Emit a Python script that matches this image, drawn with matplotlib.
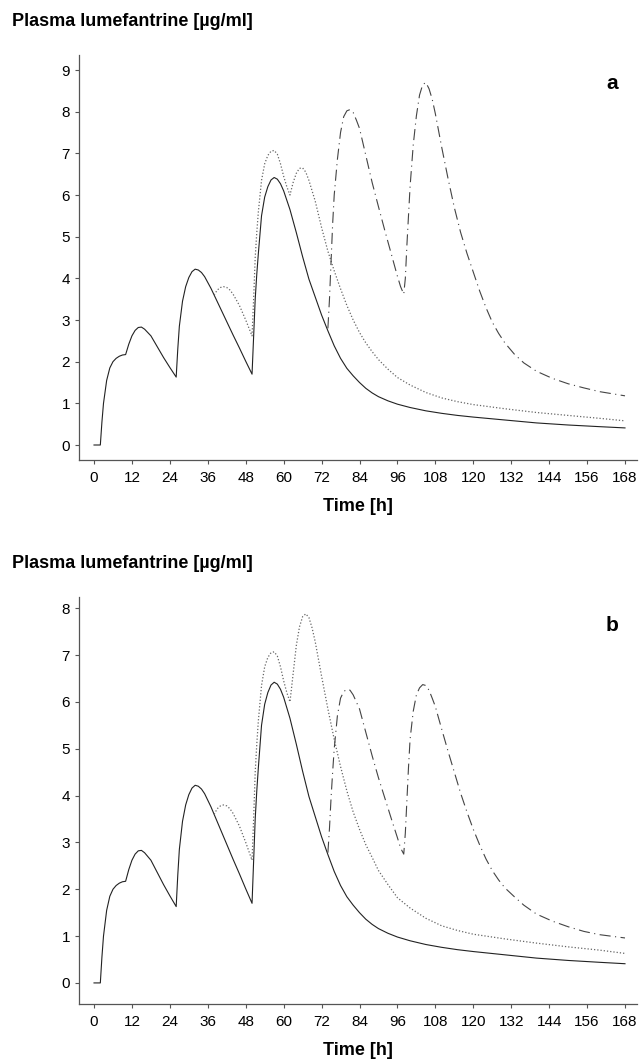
import matplotlib as mpl
import matplotlib.pyplot as plt

# concentration-time curves (time in h, conc in ug/ml)
SOLID_T = [0, 2, 2.5, 3, 4, 5, 6, 7, 8, 9,
           10, 11, 12, 13, 14, 15, 16, 18, 20, 22,
           24, 26, 26.5, 27, 28, 29, 30, 31, 32, 33,
           34, 35, 36, 37, 38, 40, 42, 44, 46, 48,
           50, 50.5, 51, 51.5, 52, 53, 54, 55, 56, 57,
           58, 59, 60, 62, 64, 66, 68, 70, 72, 74,
           76, 78, 80, 82, 84, 86, 88, 90, 93, 96,
           100, 105, 110, 115, 120, 130, 140, 150, 160, 168]
SOLID_C = [0, 0, 0.55, 1.0, 1.55, 1.85, 2.0, 2.08, 2.13, 2.16,
           2.17, 2.42, 2.62, 2.75, 2.82, 2.83, 2.78, 2.62, 2.36, 2.1,
           1.86, 1.63, 2.3, 2.85, 3.45, 3.8, 4.02, 4.16, 4.22, 4.2,
           4.14, 4.04, 3.9, 3.76, 3.6, 3.28, 2.96, 2.64, 2.33, 2.01,
           1.70, 2.6, 3.5, 4.1, 4.6, 5.5, 5.95, 6.2, 6.36, 6.42,
           6.38, 6.27, 6.1, 5.65, 5.1, 4.52, 3.98, 3.55, 3.12, 2.74,
           2.38, 2.08, 1.84, 1.66, 1.5, 1.36, 1.25, 1.16, 1.06, 0.98,
           0.9, 0.82, 0.76, 0.71, 0.67, 0.6, 0.53, 0.48, 0.44, 0.41]

# six-dose regimen, shared part (branches off the solid curve at 38 h)
DOTTED_T = [38, 39, 40, 41, 42, 43, 44, 46, 48, 50,
            50.5, 51, 51.5, 52, 53, 54, 55, 56, 57, 58,
            59, 60, 61, 62]
DOTTED_C = [3.6, 3.72, 3.78, 3.8, 3.78, 3.72, 3.62, 3.35, 3.0, 2.62,
            3.5, 4.5, 5.1, 5.6, 6.35, 6.75, 6.95, 7.05, 7.07, 6.98,
            6.75, 6.45, 6.2, 6.0]

LATE_T = [63, 64, 65, 66, 67, 68, 69, 70, 72, 74,
          76, 78, 80, 82, 84, 86, 88, 90, 93, 96,
          100, 105, 110, 115, 120, 130, 140, 150, 160, 168]
DOTTED_A_C = [6.3, 6.52, 6.64, 6.65, 6.55, 6.35, 6.1, 5.85, 5.22, 4.65,
              4.18, 3.75, 3.35, 3.0, 2.7, 2.45, 2.24, 2.05, 1.82, 1.62,
              1.44, 1.26, 1.13, 1.04, 0.97, 0.87, 0.78, 0.71, 0.64, 0.58]
DOTTED_B_C = [6.6, 7.2, 7.6, 7.82, 7.88, 7.8, 7.58, 7.28, 6.55, 5.85,
              5.2, 4.62, 4.1, 3.65, 3.28, 2.95, 2.68, 2.4, 2.1, 1.82,
              1.6, 1.38, 1.22, 1.12, 1.04, 0.94, 0.85, 0.77, 0.7, 0.63]

# dashed curves branch off the solid curve at 74 h
DASHED_T = [74, 74.5, 75, 75.5, 76, 77, 78, 79, 80, 81,
            82, 83, 84, 86, 88, 90, 92, 94, 96, 97,
            98, 98.5, 99, 99.5, 100, 101, 102, 103, 104, 105,
            106, 107, 108, 110, 112, 114, 116, 118, 120, 122,
            124, 126, 128, 130, 133, 136, 140, 145, 150, 155,
            160, 168]
DASHED_A_C = [2.8, 3.5, 4.4, 5.3, 6.0, 6.85, 7.5, 7.88, 8.02, 8.05,
              7.98, 7.8, 7.6, 6.95, 6.3, 5.72, 5.15, 4.6, 4.05, 3.8,
              3.62, 4.0, 4.8, 5.5, 6.2, 7.2, 7.9, 8.4, 8.65, 8.7,
              8.55, 8.3, 7.95, 7.15, 6.4, 5.7, 5.1, 4.6, 4.15, 3.7,
              3.3, 2.95, 2.68, 2.45, 2.18, 1.97, 1.77, 1.6, 1.47, 1.37,
              1.28, 1.18]
DASHED_B_C = [2.78, 3.3, 3.95, 4.5, 5.0, 5.7, 6.08, 6.22, 6.27, 6.25,
              6.15, 6.0, 5.85, 5.35, 4.85, 4.38, 3.95, 3.52, 3.1, 2.88,
              2.75, 3.2, 3.9, 4.6, 5.2, 5.8, 6.15, 6.3, 6.37, 6.35,
              6.25, 6.08, 5.9, 5.42, 4.95, 4.5, 4.05, 3.65, 3.28, 2.95,
              2.65, 2.4, 2.2, 2.03, 1.84, 1.66, 1.47, 1.32, 1.2, 1.1,
              1.03, 0.96]

X_TICKS = list(range(0, 169, 12))
Y_TITLE = "Plasma lumefantrine [µg/ml]"

mpl.rcParams.update({
    "font.family": ["Liberation Sans", "DejaVu Sans"],
    "font.size": 11,
    "axes.edgecolor": "#555555",
    "xtick.color": "#555555",
    "ytick.color": "#555555",
    "xtick.labelcolor": "black",
    "ytick.labelcolor": "black",
})

W, H = 641, 1062
fig = plt.figure(figsize=(W / 100, H / 100), dpi=100)


def px_axes(top, bottom, left=79, right=637):
    return fig.add_axes([left / W, 1 - bottom / H, (right - left) / W, (bottom - top) / H])


def draw_panel(ax, dotted_late, dashed, yticks, ylim, letter):
    ax.plot(SOLID_T, SOLID_C, color="#222222", lw=0.8)
    ax.plot(DOTTED_T + LATE_T, DOTTED_C + dotted_late, color="#666666", lw=0.9,
            linestyle=(0, (1, 1.6)))
    ax.plot(DASHED_T, dashed, color="#444444", lw=0.8,
            linestyle=(0, (10, 4, 1, 4)))
    ax.set_xlim(-4.75, 171.8)
    ax.set_ylim(*ylim)
    ax.set_xticks(X_TICKS)
    ax.set_yticks(yticks)
    for side in ("top", "right"):
        ax.spines[side].set_visible(False)
    ax.spines["left"].set_linewidth(0.9)
    ax.spines["bottom"].set_linewidth(0.9)
    ax.tick_params(direction="out", length=3, width=0.8, labelsize=11)
    ax.tick_params(axis="x", pad=5)
    ax.set_xlabel("Time [h]", fontsize=13, weight="bold", labelpad=9)
    ax.text(0.955, 0.93, letter, transform=ax.transAxes, fontsize=15,
            weight="bold", ha="center", va="center")


ax_a = px_axes(55, 460)
draw_panel(ax_a, DOTTED_A_C, DASHED_A_C, range(0, 10), (-0.36, 9.36), "a")
fig.text(12 / W, 1 - 21 / H, Y_TITLE, fontsize=13, weight="bold", va="center")

ax_b = px_axes(597, 1004)
draw_panel(ax_b, DOTTED_B_C, DASHED_B_C, range(0, 9), (-0.45, 8.24), "b")
fig.text(12 / W, 1 - 563 / H, Y_TITLE, fontsize=13, weight="bold", va="center")

fig.savefig("out.png", dpi=100, facecolor="white")
